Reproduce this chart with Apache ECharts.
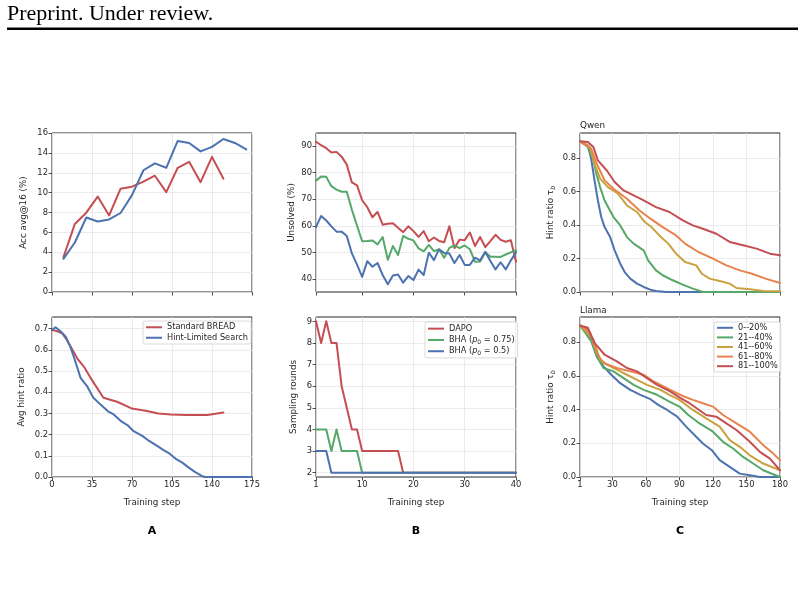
<!DOCTYPE html>
<html><head><meta charset="utf-8">
<script src="https://cdn.jsdelivr.net/npm/echarts@6/dist/echarts.min.js"></script>
<style>html,body{margin:0;padding:0;background:#fff}#c{width:804px;height:596px}</style>
</head><body><div id="c"></div>
<script>
// ---------- Panel A (top): accuracy ----------
const accStepsBread = [10,20,30,40,50,60,70,80,90,100,110,120,130,140,150];
const accBread = [3.5,6.85,7.98,9.6,7.7,10.4,10.6,11.1,11.7,10.05,12.5,13.1,11.05,13.6,11.4];
const accStepsHint = [10,20,30,40,50,60,70,80,90,100,110,120,130,140,150,160,170];
const accHint = [3.34,4.98,7.5,7.1,7.3,7.95,9.75,12.25,12.95,12.5,15.2,15.0,14.15,14.6,15.4,15.0,14.35];
// ---------- Panel A (bottom): avg hint ratio ----------
const hintStepsBread = [0,4,9,13,18,22,28,35,45,57,70,83,93,104,118,136,150];
const hintBread = [0.694,0.689,0.678,0.647,0.599,0.56,0.52,0.457,0.374,0.355,0.323,0.311,0.3,0.295,0.292,0.293,0.304];
const hintStepsHint = [0,3,7,12,16,20,25,31,36,42,49,54,60,66,71,79,85,92,98,103,108,114,120,125,131,134,175];
const hintHint = [0.694,0.707,0.69,0.662,0.615,0.552,0.468,0.426,0.375,0.344,0.31,0.295,0.265,0.245,0.218,0.194,0.17,0.147,0.126,0.11,0.087,0.068,0.043,0.024,0.005,0,0];
const aXTicks = [0,35,70,105,140,175];
// ---------- Panel B ----------
const bSteps = [1,2,3,4,5,6,7,8,9,10,11,12,13,14,15,16,17,18,19,20,21,22,23,24,25,26,27,28,29,30,31,32,33,34,35,36,37,38,39,40];
const unsolvedDapo = [91.6,90.3,89.2,87.6,87.8,86.0,83.0,76.3,75.2,69.6,67.0,63.2,65.2,60.4,60.8,61.0,59.3,57.6,59.8,58.0,55.8,58.0,54.2,55.6,54.3,53.8,59.8,51.6,54.8,54.6,57.5,52.4,55.8,52.0,54.2,56.6,54.7,54.0,54.6,46.5];
const unsolvedBha75 = [77.0,78.5,78.4,74.9,73.6,72.8,72.8,66.0,60.0,54.2,54.3,54.5,53.0,55.8,47.2,52.4,49.0,56.2,55.1,54.5,51.5,50.4,52.8,50.5,51.1,48.0,51.7,52.6,51.6,52.6,51.2,46.5,46.6,50.0,48.4,48.4,48.3,49.2,50.0,50.8];
const unsolvedBha50 = [59.5,63.7,62.0,59.8,57.8,57.8,56.2,49.6,45.4,40.8,46.7,44.6,46.0,41.5,38.0,41.3,41.7,38.6,41.1,39.6,43.5,41.5,49.9,47.1,51.2,49.8,49.6,46.0,49.0,45.3,45.3,48.0,47.0,50.2,46.8,43.6,46.3,43.6,47.0,50.0];
const roundsDapo = [9,8,9,8,8,6,5,4,4,3,3,3,3,3,3,3,3,2,2,2,2,2,2,2,2,2,2,2,2,2,2,2,2,2,2,2,2,2,2,2];
const roundsBha75 = [4,4,4,3,4,3,3,3,3,2,2,2,2,2,2,2,2,2,2,2,2,2,2,2,2,2,2,2,2,2,2,2,2,2,2,2,2,2,2,2];
const roundsBha50 = [3,3,3,2,2,2,2,2,2,2,2,2,2,2,2,2,2,2,2,2,2,2,2,2,2,2,2,2,2,2,2,2,2,2,2,2,2,2,2,2];
const bXTicks = [1,10,20,30,40];
// ---------- Panel C: Qwen ----------
const qBlueX = [1,8,11,14,17,20,23,28,32,37,41,46,52,58,64,69,78,180];
const qBlueY = [0.9,0.876,0.796,0.667,0.547,0.448,0.388,0.328,0.249,0.169,0.119,0.08,0.05,0.03,0.014,0.006,0,0];
const qGreenX = [1,8,13,16,19,23,31,37,43,49,58,62,69,75,84,93,102,111,180];
const qGreenY = [0.9,0.866,0.786,0.697,0.627,0.547,0.448,0.398,0.328,0.289,0.249,0.189,0.129,0.1,0.07,0.044,0.02,0,0];
const qGoldX = [1,10,14,19,26,35,43,52,59,65,72,80,87,95,105,110,117,126,135,141,153,165,180];
const qGoldY = [0.9,0.866,0.766,0.677,0.627,0.587,0.517,0.478,0.418,0.388,0.338,0.289,0.229,0.179,0.159,0.109,0.08,0.066,0.05,0.024,0.016,0.006,0.005];
const qOrangeX = [1,11,16,23,31,43,54,64,75,87,95,107,120,132,144,155,167,180];
const qOrangeY = [0.9,0.856,0.766,0.667,0.617,0.557,0.488,0.438,0.388,0.338,0.289,0.239,0.199,0.159,0.129,0.109,0.08,0.054];
const qRedX = [1,8,13,17,25,32,40,49,58,69,81,93,102,111,123,135,147,159,171,180];
const qRedY = [0.9,0.896,0.866,0.786,0.726,0.657,0.607,0.577,0.547,0.507,0.478,0.428,0.398,0.378,0.348,0.299,0.279,0.259,0.229,0.219];
// ---------- Panel C: Llama ----------
const lBlueX = [1,7,11,16,22,29,37,46,55,64,71,79,88,96,105,111,119,126,135,144,153,162,180];
const lBlueY = [0.9,0.876,0.816,0.716,0.657,0.607,0.557,0.517,0.488,0.462,0.428,0.398,0.358,0.299,0.239,0.199,0.159,0.1,0.06,0.02,0.01,0,0];
const lGreenX = [1,11,16,22,31,40,49,58,70,81,90,98,108,120,129,138,147,156,165,180];
const lGreenY = [0.9,0.806,0.716,0.647,0.627,0.587,0.547,0.517,0.488,0.448,0.418,0.368,0.318,0.269,0.209,0.169,0.119,0.08,0.04,0];
const lGoldX = [1,13,19,25,34,43,52,61,73,81,90,102,114,126,135,144,153,165,180];
const lGoldY = [0.9,0.816,0.697,0.667,0.637,0.607,0.577,0.547,0.517,0.488,0.458,0.398,0.348,0.299,0.219,0.179,0.129,0.08,0.04];
const lOrangeX = [1,10,16,22,34,46,58,67,76,85,94,102,111,120,129,141,153,165,174,180];
const lOrangeY = [0.9,0.856,0.736,0.677,0.647,0.627,0.607,0.567,0.537,0.507,0.478,0.458,0.438,0.418,0.368,0.318,0.269,0.189,0.139,0.1];
const lRedX = [1,8,14,23,34,43,52,61,70,82,91,99,114,123,132,141,153,162,171,180];
const lRedY = [0.9,0.886,0.796,0.726,0.687,0.647,0.627,0.587,0.547,0.507,0.468,0.438,0.368,0.358,0.318,0.279,0.209,0.149,0.109,0.04];
const cXTicks = [1,30,60,90,120,150,180];
const bucketNames = ['0--20%','21--40%','41--60%','61--80%','81--100%'];

const RED='#c44e52', BLUE='#4c72b0', GREEN='#55a868', GOLD='#c9a23f', ORANGE='#e8834e';
const FONT='DejaVu Sans', INK='#262626';

const chart = echarts.init(document.getElementById('c'), null, {renderer:'canvas'});

const grids = [
  {left:52, top:133, width:200, height:159},
  {left:52, top:317, width:200, height:160},
  {left:316, top:133, width:200, height:159},
  {left:316, top:317, width:200, height:160},
  {left:580, top:133, width:200, height:159},
  {left:580, top:317, width:200, height:160}
].map(g => Object.assign({show:true, borderColor:INK, borderWidth:1, backgroundColor:'transparent', z:0}, g));

function axis(gi, o) {
  const base = {
    type:'value', gridIndex:gi, scale:false,
    axisLine:{show:false},
    axisTick:{show:true, inside:false, length:3.5, lineStyle:{color:INK, width:0.8}},
    axisLabel:{show:true, fontSize:8.4, color:INK, fontFamily:FONT, margin:4},
    splitLine:{show:true, lineStyle:{color:'#e6e6e6', width:0.8}},
    nameTextStyle:{fontSize:8.8, color:INK, fontFamily:FONT}
  };
  const r = Object.assign({}, base, o);
  if (o.ticks) {
    r.axisTick = Object.assign({}, base.axisTick, {customValues:o.ticks});
    r.axisLabel = Object.assign({}, base.axisLabel, {customValues:o.ticks}, o.labelExtra || {});
    delete r.ticks; delete r.labelExtra;
  } else if (o.labelExtra) {
    r.axisLabel = Object.assign({}, base.axisLabel, o.labelExtra); delete r.labelExtra;
  }
  return r;
}
const fmt1 = v => v.toFixed(1);
const noLab = {show:false};

const xAxes = [
  axis(0, {min:0, max:175, ticks:aXTicks, labelExtra:noLab}),
  axis(1, {min:0, max:175, ticks:aXTicks, name:'Training step', nameLocation:'middle', nameGap:21}),
  axis(2, {min:1, max:40, ticks:bXTicks, labelExtra:noLab}),
  axis(3, {min:1, max:40, ticks:bXTicks, name:'Training step', nameLocation:'middle', nameGap:21}),
  axis(4, {min:1, max:180, ticks:cXTicks, labelExtra:noLab}),
  axis(5, {min:1, max:180, ticks:cXTicks, name:'Training step', nameLocation:'middle', nameGap:21})
];
const yAxes = [
  axis(0, {min:0, max:16, ticks:[0,2,4,6,8,10,12,14,16], name:'Acc avg@16 (%)', nameLocation:'middle', nameGap:24}),
  axis(1, {min:0, max:0.755, ticks:[0,0.1,0.2,0.3,0.4,0.5,0.6,0.7], labelExtra:{formatter:fmt1}, name:'Avg hint ratio', nameLocation:'middle', nameGap:26}),
  axis(2, {min:35.1, max:94.9, ticks:[40,50,60,70,80,90], name:'Unsolved (%)', nameLocation:'middle', nameGap:20}),
  axis(3, {min:1.8, max:9.2, ticks:[2,3,4,5,6,7,8,9], name:'Sampling rounds', nameLocation:'middle', nameGap:18}),
  axis(4, {min:0, max:0.95, ticks:[0,0.2,0.4,0.6,0.8], labelExtra:{formatter:fmt1}, name:'{n|Hint ratio τ}{s|b}', nameLocation:'middle', nameGap:24}),
  axis(5, {min:0, max:0.95, ticks:[0,0.2,0.4,0.6,0.8], labelExtra:{formatter:fmt1}, name:'{n|Hint ratio τ}{s|b}', nameLocation:'middle', nameGap:24})
];
const richTau = {n:{fontSize:8.8, color:INK, fontFamily:FONT}, s:{fontSize:6.3, color:INK, fontFamily:FONT, fontStyle:'italic', padding:[4,0,0,0]}};
yAxes[4].nameTextStyle = Object.assign({}, yAxes[4].nameTextStyle, {rich:richTau});
yAxes[5].nameTextStyle = Object.assign({}, yAxes[5].nameTextStyle, {rich:richTau});

function line(name, xs, ys, color, gi, z) {
  return {type:'line', name, xAxisIndex:gi, yAxisIndex:gi, data:xs.map((x,i)=>[x, ys[i]]),
    symbol:'none', showSymbol:false, clip:true, animation:false, z:z||2,
    lineStyle:{width:2, color, cap:'round', join:'round'}, itemStyle:{color}, emphasis:{disabled:true}};
}

const series = [
  line('Standard BREAD', accStepsBread, accBread, RED, 0),
  line('Hint-Limited Search', accStepsHint, accHint, BLUE, 0),
  line('Standard BREAD', hintStepsBread, hintBread, RED, 1),
  line('Hint-Limited Search', hintStepsHint, hintHint, BLUE, 1),
  line('DAPO', bSteps, unsolvedDapo, RED, 2),
  line('BHA75', bSteps, unsolvedBha75, GREEN, 2),
  line('BHA50', bSteps, unsolvedBha50, BLUE, 2),
  line('DAPO', bSteps, roundsDapo, RED, 3),
  line('BHA75', bSteps, roundsBha75, GREEN, 3),
  line('BHA50', bSteps, roundsBha50, BLUE, 3),
  line(bucketNames[0], qBlueX, qBlueY, BLUE, 4),
  line(bucketNames[1], qGreenX, qGreenY, GREEN, 4),
  line(bucketNames[2], qGoldX, qGoldY, GOLD, 4),
  line(bucketNames[3], qOrangeX, qOrangeY, ORANGE, 4),
  line(bucketNames[4], qRedX, qRedY, RED, 4),
  line(bucketNames[0], lBlueX, lBlueY, BLUE, 5),
  line(bucketNames[1], lGreenX, lGreenY, GREEN, 5),
  line(bucketNames[2], lGoldX, lGoldY, GOLD, 5),
  line(bucketNames[3], lOrangeX, lOrangeY, ORANGE, 5),
  line(bucketNames[4], lRedX, lRedY, RED, 5)
];

const legBase = {orient:'vertical', icon:'rect', itemWidth:16, itemHeight:2, itemGap:0, selectedMode:false,
  borderColor:'#d0d0d0', borderWidth:0.8, borderRadius:2, backgroundColor:'rgba(255,255,255,0.85)', padding:[1,3,1,3], z:10};
const legends = [
  Object.assign({}, legBase, {left:143, top:321, data:['Standard BREAD','Hint-Limited Search'],
    textStyle:{fontSize:8.2, color:INK, fontFamily:FONT, lineHeight:10.5}}),
  Object.assign({}, legBase, {left:425, top:322, data:['DAPO','BHA75','BHA50'],
    formatter: n => n === 'DAPO' ? '{t|DAPO}' : (n === 'BHA75' ? '{t|BHA (}{i|p}{s|0}{t| = 0.75)}' : '{t|BHA (}{i|p}{s|0}{t| = 0.5)}'),
    textStyle:{fontSize:8.2, color:INK, fontFamily:FONT, lineHeight:11.3,
      rich:{t:{fontSize:8.2, color:INK, fontFamily:FONT}, i:{fontSize:8.2, fontStyle:'italic', color:INK, fontFamily:FONT},
            s:{fontSize:6, color:INK, fontFamily:FONT, padding:[4,0,0,0]}}}}),
  Object.assign({}, legBase, {left:714, top:322, data:bucketNames,
    textStyle:{fontSize:8.2, color:INK, fontFamily:FONT, lineHeight:9.6}})
];

const graphic = [
  {type:'text', left:7, top:3, style:{text:'Preprint. Under review.', font:'22px "Liberation Serif", serif', fill:'#000'}},
  {type:'rect', shape:{x:7, y:27.5, width:791, height:2.6}, style:{fill:'#000'}},
  {type:'text', x:580, y:126, style:{text:'Qwen', font:'8.8px "DejaVu Sans"', fill:INK, verticalAlign:'middle', align:'left'}},
  {type:'text', x:580, y:311, style:{text:'Llama', font:'8.8px "DejaVu Sans"', fill:INK, verticalAlign:'middle', align:'left'}},
  {type:'text', x:152, y:531, style:{text:'A', font:'bold 11px "DejaVu Sans"', fill:'#000', verticalAlign:'middle', align:'center'}},
  {type:'text', x:416, y:531, style:{text:'B', font:'bold 11px "DejaVu Sans"', fill:'#000', verticalAlign:'middle', align:'center'}},
  {type:'text', x:680, y:531, style:{text:'C', font:'bold 11px "DejaVu Sans"', fill:'#000', verticalAlign:'middle', align:'center'}}
];

chart.setOption({
  animation:false, backgroundColor:'#fff',
  grid:grids, xAxis:xAxes, yAxis:yAxes, series, legend:legends, graphic
});
</script></body></html>
